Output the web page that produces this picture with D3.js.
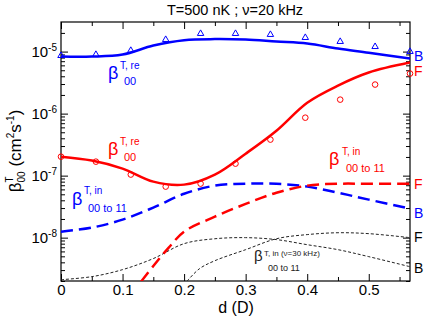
<html>
<head>
<style>
  body { margin: 0; background: #fff; }
  text { font-family: "Liberation Sans", Arial, sans-serif; }
  .tick text { font-size: 15px; fill: #000; }
</style>
</head>
<body>
<svg id="chart" width="425" height="316"></svg>
<script src="https://cdn.jsdelivr.net/npm/d3@7/dist/d3.min.js"></script>
<script>
// ---- data ----
var dCurve = [0, 0.05, 0.1, 0.15, 0.2, 0.25, 0.3, 0.35, 0.4, 0.45, 0.5, 0.567];
var bosonRe   = [8.3e-6, 8.3e-6, 8.95e-6, 1.25e-5, 1.53e-5, 1.59e-5, 1.56e-5, 1.45e-5, 1.35e-5, 1.12e-5, 9.6e-6, 7.7e-6];
var fermionRe = [2.02e-7, 1.75e-7, 1.3e-7, 8.0e-8, 7.16e-8, 1.04e-7, 2.26e-7, 5.3e-7, 1.5e-6, 2.83e-6, 4.6e-6, 6.65e-6];
var bosonIn   = [1.25e-8, 1.45e-8, 1.95e-8, 3.05e-8, 5.1e-8, 6.9e-8, 7.4e-8, 7.4e-8, 6.65e-8, 5.3e-8, 4.1e-8, 2.94e-8];
var bosonIn30 = [2.1e-9, 2.35e-9, 3.05e-9, 4.6e-9, 8.0e-9, 9.6e-9, 1.0e-8, 9.3e-9, 7.7e-9, 6.4e-9, 4.94e-9, 3.4e-9];

var dFermIn = [0.13, 0.15, 0.175, 0.2, 0.25, 0.3, 0.35, 0.4, 0.45, 0.5, 0.567];
var fermionIn = [1.95e-9, 3.5e-9, 6.9e-9, 1.25e-8, 2.18e-8, 3.5e-8, 5.3e-8, 6.9e-8, 7.4e-8, 7.4e-8, 7.4e-8];

var dFermIn30 = [0.205, 0.225, 0.25, 0.3, 0.35, 0.4, 0.45, 0.5, 0.567];
var fermionIn30 = [2e-9, 3.16e-9, 4.25e-9, 6.4e-9, 9.6e-9, 1.12e-8, 1.2e-8, 1.16e-8, 1.0e-8];

// symbols (exact calculation)
var dPoints = [0, 0.0567, 0.1134, 0.1701, 0.2268, 0.2835, 0.3402, 0.3969, 0.4536, 0.5103, 0.567];
var bosonPts   = [8.6e-6, 8.95e-6, 1.04e-5, 1.56e-5, 1.95e-5, 1.95e-5, 1.88e-5, 1.68e-5, 1.45e-5, 1.2e-5, 1.0e-5];
var fermionPts = [2.02e-7, 1.68e-7, 1.04e-7, 6.65e-8, 7.43e-8, 1.56e-7, 3.81e-7, 8.6e-7, 1.68e-6, 2.94e-6, 4.42e-6];

var xTicks = [0, 0.1, 0.2, 0.3, 0.4, 0.5];
var xMinor = [0.05, 0.15, 0.25, 0.35, 0.45, 0.55];
var yTicks = [1e-8, 1e-7, 1e-6, 1e-5];
var yExp = ["-8", "-7", "-6", "-5"];

var svg = d3.select("#chart");
var plotL = 61, plotR = 410, plotT = 22, plotB = 281;

var x = d3.scaleLinear().domain([0, 0.567]).range([plotL, plotR]);
var y = d3.scaleLog().domain([2e-9, 3e-5]).range([plotB, plotT]);

var yMinor = [];
for (var k = -9; k <= -5; k++) {
  for (var m = 2; m <= 9; m++) {
    var v = m * Math.pow(10, k);
    if (v >= 2e-9 && v <= 3e-5) yMinor.push(v);
  }
}

svg.append("clipPath").attr("id", "clip")
  .append("rect").attr("x", plotL).attr("y", plotT)
  .attr("width", plotR - plotL).attr("height", plotB - plotT);

// axes: ticks point inward
svg.append("g").attr("transform", "translate(0," + plotB + ")")
  .call(d3.axisBottom(x).tickValues(xTicks).tickSizeInner(-7).tickSizeOuter(0).tickPadding(3)
    .tickFormat(function(d) { return d === 0 ? "0" : d3.format(".1f")(d); }));
svg.append("g").attr("transform", "translate(0," + plotB + ")")
  .call(d3.axisBottom(x).tickValues(xMinor).tickSizeInner(-4).tickSizeOuter(0).tickFormat(""));
svg.append("g").attr("transform", "translate(0," + plotT + ")")
  .call(d3.axisTop(x).tickValues(xTicks).tickSizeInner(-7).tickSizeOuter(0).tickFormat(""));
svg.append("g").attr("transform", "translate(0," + plotT + ")")
  .call(d3.axisTop(x).tickValues(xMinor).tickSizeInner(-4).tickSizeOuter(0).tickFormat(""));

var yl = svg.append("g").attr("transform", "translate(" + plotL + ",0)")
  .call(d3.axisLeft(y).tickValues(yTicks).tickSizeInner(-7).tickSizeOuter(0).tickPadding(4)
    .tickFormat(function() { return ""; }));
yl.selectAll(".tick text").each(function(d, i) {
  var t = d3.select(this).attr("text-anchor", "end");
  t.append("tspan").text("10");
  t.append("tspan").attr("font-size", "10px").attr("dy", "-0.55em").text(yExp[i]);
});
svg.append("g").attr("transform", "translate(" + plotL + ",0)")
  .call(d3.axisLeft(y).tickValues(yMinor).tickSizeInner(-4).tickSizeOuter(0).tickFormat(""));
svg.append("g").attr("transform", "translate(" + plotR + ",0)")
  .call(d3.axisRight(y).tickValues(yTicks).tickSizeInner(-7).tickSizeOuter(0).tickFormat(""));
svg.append("g").attr("transform", "translate(" + plotR + ",0)")
  .call(d3.axisRight(y).tickValues(yMinor).tickSizeInner(-4).tickSizeOuter(0).tickFormat(""));

svg.selectAll(".domain").remove();
svg.append("rect").attr("x", plotL).attr("y", plotT)
  .attr("width", plotR - plotL).attr("height", plotB - plotT)
  .attr("fill", "none").attr("stroke", "#000").attr("stroke-width", 1.2);

// curves
var plot = svg.append("g").attr("clip-path", "url(#clip)");
function curve(xs, ys, color, width, dash) {
  var line = d3.line()
    .x(function(d, i) { return x(xs[i]); })
    .y(function(d) { return y(d); })
    .curve(d3.curveCatmullRom.alpha(0.5));
  plot.append("path").attr("d", line(ys))
    .attr("fill", "none").attr("stroke", color)
    .attr("stroke-width", width)
    .attr("stroke-dasharray", dash || null);
}
curve(dCurve, bosonIn30, "#222", 1, "3,2");
curve(dFermIn30, fermionIn30, "#222", 1, "3,2");
curve(dCurve, bosonIn, "#0000ff", 2.5, "12,6");
curve(dFermIn, fermionIn, "#ff0000", 2.5, "12,6");
curve(dCurve, bosonRe, "#0000ff", 2.5);
curve(dCurve, fermionRe, "#ff0000", 2.5);

svg.append("g").selectAll("path").data(bosonPts).enter().append("path")
  .attr("d", d3.symbol().type(d3.symbolTriangle).size(18))
  .attr("transform", function(d, i) { return "translate(" + x(dPoints[i]) + "," + y(d) + ")"; })
  .attr("fill", "none").attr("stroke", "#0000ff").attr("stroke-width", 1);
svg.append("g").selectAll("circle").data(fermionPts).enter().append("circle")
  .attr("cx", function(d, i) { return x(dPoints[i]); })
  .attr("cy", function(d) { return y(d); })
  .attr("r", 2.8)
  .attr("fill", "none").attr("stroke", "#ff0000").attr("stroke-width", 1);

// text labels
svg.append("text").attr("x", 235).attr("y", 15).attr("text-anchor", "middle")
  .attr("font-size", "14.5px").text("T=500 nK ; \u03bd=20 kHz");

svg.append("text").attr("x", 236).attr("y", 313).attr("text-anchor", "middle")
  .attr("font-size", "16px").text("d (D)");

var yt = svg.append("text").attr("transform", "translate(21,151) rotate(-90)")
  .attr("text-anchor", "middle").attr("font-size", "17px");
yt.append("tspan").text("\u03b2");
yt.append("tspan").attr("font-size", "10px").attr("dy", "-8").text("T");
yt.append("tspan").attr("font-size", "10px").attr("dx", "-6").attr("dy", "12").text("00");
yt.append("tspan").attr("dy", "-4").text(" (cm");
yt.append("tspan").attr("font-size", "10px").attr("dy", "-7").text("2");
yt.append("tspan").attr("dy", "7").text("s");
yt.append("tspan").attr("font-size", "10px").attr("dy", "-7").text("-1");
yt.append("tspan").attr("dy", "7").text(")");

function betaLabel(bx, by, sup, sub, color, big, small, supDx, supDy, subDx, subDy) {
  var g = svg.append("g").attr("fill", color);
  g.append("text").attr("x", bx).attr("y", by).attr("font-size", big + "px").text("\u03b2");
  g.append("text").attr("x", bx + supDx).attr("y", by + supDy).attr("font-size", small + "px").text(sup);
  g.append("text").attr("x", bx + subDx).attr("y", by + subDy).attr("font-size", (small + 1) + "px").text(sub);
}
betaLabel(108, 79, "T, re", "00", "#0000ff", 18, 10, 12, -10, 16, 6);
betaLabel(108, 155, "T, re", "00", "#ff0000", 18, 10, 12, -10, 16, 6);
betaLabel(72, 205, "T, in", "00 to 11", "#0000ff", 18, 10, 12, -11, 16, 7);
betaLabel(329, 165, "T, in", "00 to 11", "#ff0000", 18, 10, 13, -10, 17, 7);
betaLabel(254, 261, "T, in (\u03bd=30 kHz)", "00 to 11", "#222", 15, 8, 10, -5, 14, 10);

var sideLabels = [
  ["B", 61, "#0000ff"], ["F", 76, "#ff0000"], ["F", 189, "#ff0000"],
  ["B", 218, "#0000ff"], ["F", 242, "#000"], ["B", 273, "#000"]
];
svg.append("g").selectAll("text").data(sideLabels).enter().append("text")
  .attr("x", 414).attr("y", function(d) { return d[1]; })
  .attr("font-size", "14px").attr("fill", function(d) { return d[2]; })
  .text(function(d) { return d[0]; });
</script>
</body>
</html>
